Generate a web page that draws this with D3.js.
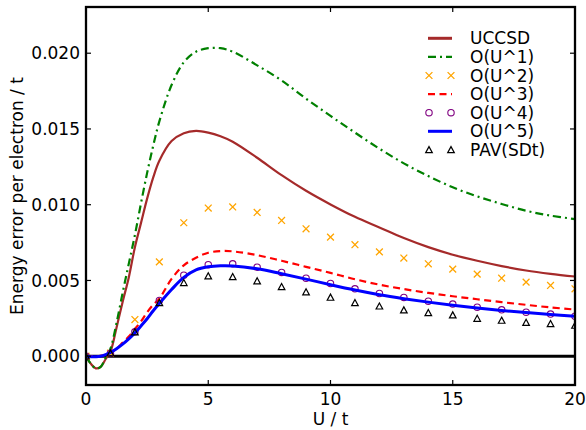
<!DOCTYPE html>
<html><head><meta charset="utf-8">
<script src="https://cdn.jsdelivr.net/npm/d3@7"></script>
<style>body{margin:0;background:#fff}svg{display:block}text{font-family:"DejaVu Sans",sans-serif}</style>
</head><body><svg id="c" width="586" height="430"></svg>
<script>
// curve grid (U / t)
const uGrid = [0,0.2,0.4,0.6,0.8,1,1.25,1.5,1.75,2,2.25,2.5,2.75,3,3.5,4,4.5,5,5.5,6,7,8,9,10,11,12,13,14,15,16,17,18,19,20];
const uccsd = [0,-0.0005,-0.0008,-0.0007,-0.0002,0.0003,0.0019,0.0036,0.0052,0.0072,0.0088,0.0104,0.0118,0.0129,0.0142,0.01472,0.01487,0.01476,0.01452,0.01416,0.0131,0.01195,0.01092,0.01002,0.0092,0.0085,0.0078,0.0072,0.0067,0.0063,0.00595,0.00566,0.00544,0.00526];
const ou1 = [0,-0.0005,-0.0008,-0.0007,-0.0001,0.0005,0.0022,0.0042,0.0061,0.0080,0.0101,0.0121,0.0139,0.0155,0.0179,0.0194,0.0201,0.02033,0.02033,0.0201,0.0192,0.0182,0.0170,0.01586,0.01476,0.0137,0.01273,0.01189,0.01115,0.01055,0.01005,0.0096,0.00928,0.00905];
const ou3 = [0,0,0,0.00002,0.0001,0.00025,0.0005,0.0009,0.0013,0.0018,0.0023,0.0029,0.0034,0.0038,0.0051,0.0060,0.0065,0.00683,0.00694,0.00692,0.00667,0.0063,0.0059,0.0055,0.00508,0.00472,0.00443,0.00418,0.00396,0.00376,0.00357,0.00339,0.00322,0.00308];
const ou5 = [0,-0.00003,-0.00003,0,0.0001,0.00025,0.0005,0.0008,0.00115,0.00154,0.002,0.00247,0.003,0.00348,0.0044,0.0052,0.0057,0.0059,0.00597,0.00596,0.00577,0.00544,0.00509,0.00472,0.00437,0.00406,0.0038,0.00357,0.00336,0.00318,0.00302,0.00288,0.00275,0.00264];
// marker grid
const uInt = [0,1,2,3,4,5,6,7,8,9,10,11,12,13,14,15,16,17,18,19,20];
const ou2 = [0,0.0002,0.00242,0.00623,0.00881,0.00978,0.00985,0.00949,0.00896,0.00841,0.00786,0.00736,0.00689,0.00648,0.0061,0.00575,0.00542,0.00515,0.00489,0.00467,0.00445];
const ou4 = [0,0.0002,0.00161,0.00368,0.00535,0.00604,0.0061,0.00588,0.00553,0.00515,0.0048,0.00445,0.00414,0.00388,0.00363,0.00344,0.00324,0.00306,0.00291,0.00278,0.00264];
const pav = [0,0.0002,0.00159,0.00352,0.00485,0.00529,0.00524,0.00496,0.00458,0.00423,0.00388,0.00352,0.0033,0.00304,0.00286,0.00271,0.00249,0.00236,0.00222,0.00214,0.00203];
const xTicks = [0,5,10,15,20];
const yTicks = [0,0.005,0.010,0.015,0.020];
const legendLabels = ["UCCSD","O(U^1)","O(U^2)","O(U^3)","O(U^4)","O(U^5)","PAV(SDt)"];

const L=86,R=575,T=7,B=385;
const svg=d3.select("#c");
const x=d3.scaleLinear().domain([0,20]).range([L,R]);
const y=d3.scaleLinear().domain([-0.0019,0.02305]).range([B,T]);

svg.append("defs").append("clipPath").attr("id","clip").append("rect")
  .attr("x",L).attr("y",T).attr("width",R-L).attr("height",B-T);
const g=svg.append("g").attr("clip-path","url(#clip)");

// zero line
g.append("line").attr("x1",L).attr("x2",R).attr("y1",y(0)).attr("y2",y(0))
  .attr("stroke","#000").attr("stroke-width",3);

const line=d3.line().x(d=>x(d[0])).y(d=>y(d[1])).curve(d3.curveCatmullRom.alpha(0.5));
function curve(vals,color,w,dash){
  const p=g.append("path").datum(uGrid.map((u,i)=>[u,vals[i]])).attr("d",line)
   .attr("fill","none").attr("stroke",color).attr("stroke-width",w);
  if(dash)p.attr("stroke-dasharray",dash);
}
const C={uccsd:"#a52a2a",o1:"#008000",o2:"#ffa500",o3:"#ff0000",o4:"#800080",o5:"#0000ff",pav:"#000"};
curve(uccsd,C.uccsd,2.2);
curve(ou1,C.o1,2.2,"8,4,2,4");
function xMark(sel,cx,cy){
  const s=3.4;
  sel.append("path").attr("d",`M${cx-s},${cy-s}L${cx+s},${cy+s}M${cx-s},${cy+s}L${cx+s},${cy-s}`)
   .attr("stroke",C.o2).attr("stroke-width",1.3).attr("fill","none");
}
function cMark(sel,cx,cy){
  sel.append("circle").attr("cx",cx).attr("cy",cy).attr("r",3.2)
   .attr("fill","none").attr("stroke",C.o4).attr("stroke-width",1.1);
}
function tMark(sel,cx,cy){
  const s=3.3;
  sel.append("path").attr("d",`M${cx},${cy-s}L${cx+s},${cy+s*0.85}L${cx-s},${cy+s*0.85}Z`)
   .attr("fill","none").attr("stroke","#000").attr("stroke-width",1.2);
}
uInt.forEach((u,i)=>xMark(g,x(u),y(ou2[i])));
curve(ou3,C.o3,2.2,"7,4.5");
uInt.forEach((u,i)=>cMark(g,x(u),y(ou4[i])));
curve(ou5,C.o5,3);
uInt.forEach((u,i)=>tMark(g,x(u),y(pav[i])));

// frame and ticks
const ax=svg.append("g");
const TL=5;
xTicks.forEach(t=>{
  ax.append("line").attr("x1",x(t)).attr("x2",x(t)).attr("y1",B).attr("y2",B-TL).attr("stroke","#000").attr("stroke-width",1.2);
  ax.append("line").attr("x1",x(t)).attr("x2",x(t)).attr("y1",T).attr("y2",T+TL).attr("stroke","#000").attr("stroke-width",1.2);
  ax.append("text").attr("x",x(t)).attr("y",404.5).attr("text-anchor","middle").attr("font-size",17).text(d3.format("d")(t));
});
yTicks.forEach(t=>{
  ax.append("line").attr("x1",L).attr("x2",L+TL).attr("y1",y(t)).attr("y2",y(t)).attr("stroke","#000").attr("stroke-width",1.2);
  ax.append("line").attr("x1",R).attr("x2",R-TL).attr("y1",y(t)).attr("y2",y(t)).attr("stroke","#000").attr("stroke-width",1.2);
  ax.append("text").attr("x",80).attr("y",y(t)).attr("dy","0.36em").attr("text-anchor","end").attr("font-size",17).text(d3.format(".3f")(t));
});
ax.append("rect").attr("x",L).attr("y",T).attr("width",R-L).attr("height",B-T)
  .attr("fill","none").attr("stroke","#000").attr("stroke-width",2.3);

ax.append("text").attr("x",x(10)).attr("y",424.5).attr("text-anchor","middle").attr("font-size",17).text("U / t");
ax.append("text").attr("transform",`translate(23,${(T+B)/2}) rotate(-90)`).attr("text-anchor","middle").attr("font-size",17).text("Energy error per electron / t");

// legend
const lg=svg.append("g");
const rowY=i=>38.3+i*18.6;
const lx0=428,lx1=452;
function legLine(i,color,w,dash){
  const l=lg.append("line").attr("x1",lx0).attr("x2",lx1).attr("y1",rowY(i)).attr("y2",rowY(i)).attr("stroke",color).attr("stroke-width",w);
  if(dash)l.attr("stroke-dasharray",dash);
}
legLine(0,C.uccsd,3);
legLine(1,C.o1,2.2,"8,4,2,4");
xMark(lg,lx0+1,rowY(2)); xMark(lg,lx1-1,rowY(2));
legLine(3,C.o3,2.2,"7,4.5");
cMark(lg,lx0+1,rowY(4)); cMark(lg,lx1-1,rowY(4));
legLine(5,C.o5,3);
tMark(lg,lx0+1,rowY(6)); tMark(lg,lx1-1,rowY(6));
legendLabels.forEach((s,i)=>lg.append("text").attr("x",470).attr("y",rowY(i)).attr("dy","0.36em").attr("font-size",17).text(s));
</script></body></html>
